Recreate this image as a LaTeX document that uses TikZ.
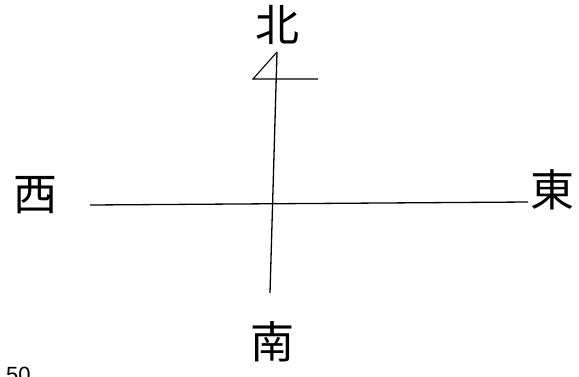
\documentclass[tikz,border=0pt]{standalone}
\usepackage{fontspec}
\newfontfamily\cjk{Noto Sans CJK JP}
\setmainfont{Liberation Sans}

\begin{document}
\begin{tikzpicture}[x=1pt,y=-1pt]

    % page frame
    \useasboundingbox (0,0) rectangle (579,376);

    % direction labels
    \tikzset{dir/.style={inner sep=0pt,font=\cjk\fontsize{44}{44}\selectfont}}
    \node[dir] (north) at (277,25) {北};
    \node[dir] (west) at (35,195) {西};
    \node[dir] (east) at (552,190) {東};
    \node[dir] (south) at (272,342) {南};

    % line ends
    \coordinate (ntip) at (277,52);
    \coordinate (send) at (270,293);
    \coordinate (wend) at (90,205);
    \coordinate (eend) at (528,202);
    \coordinate (flagl) at (253,79);
    \coordinate (flagr) at (318,79);

    % cross
    \draw[line width=1.3pt] (ntip) -- (send);
    \draw[line width=1.3pt] (wend) -- (eend);

    % north mark
    \draw[line width=1.1pt] (ntip) -- (flagl) -- (flagr);

    % page number, cut at the bottom edge
    \node[anchor=base west,inner sep=0pt,font=\fontsize{22}{22}\selectfont] (pnum) at (6,382) {50};

\end{tikzpicture}
\end{document}
